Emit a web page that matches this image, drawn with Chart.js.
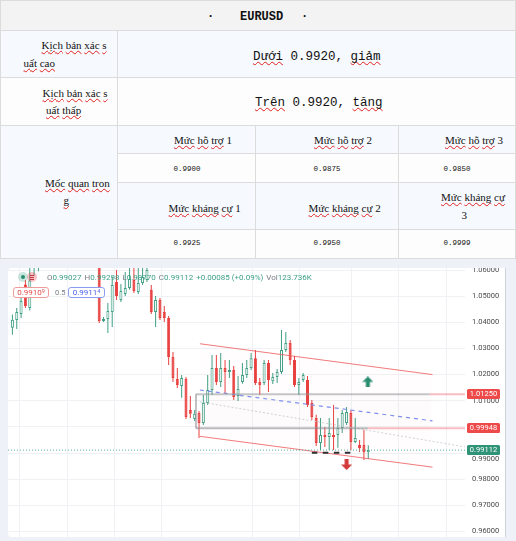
<!DOCTYPE html>
<html>
<head>
<meta charset="utf-8">
<script src="https://cdn.jsdelivr.net/npm/chart.js@4.4.1/dist/chart.umd.min.js"></script>
<style>
  html, body { margin: 0; padding: 0; }
  body { width: 516px; height: 541px; position: relative; overflow: hidden; background: #fff; }
  .cell { position: absolute; }
  .hl { position: absolute; height: 1px; background: #dcdcdc; }
  .vl { position: absolute; width: 1px; background: #dcdcdc; }
  .t { position: absolute; white-space: nowrap; color: #111; }
  .serif { font-family: "Liberation Serif", "DejaVu Serif", serif; font-size: 11px; line-height: 12px; }
  .big { font-family: "Liberation Mono", "DejaVu Sans Mono", monospace; font-size: 12.5px; line-height: 14px; }
  .val { font-family: "Liberation Mono", "DejaVu Sans Mono", monospace; font-size: 7.5px; line-height: 9px; }
  .head { font-family: "Liberation Mono", monospace; font-weight: bold; font-size: 12px; line-height: 14px; }
  .w { text-decoration: underline wavy #e02020; text-decoration-thickness: 1px; text-underline-offset: 1px; text-decoration-skip-ink: none; }
  #frame { position: absolute; left: 0; top: 258px; width: 516px; height: 283px; background: #eef1f7; }
  #panel { position: absolute; left: 8px; top: 268px; width: 498px; height: 269px; background: #fff;
           border-radius: 4px 0 0 4px; border-right: 1px solid #cfd3da; box-sizing: border-box; }
  .lg { position: absolute; white-space: nowrap; font-family: Roboto, sans-serif; }
  .k { color: #787b86; }
  .ohlc span.v { margin-right: 3px; }
  .box { position: absolute; box-sizing: border-box; height: 11px; border-radius: 3px; background: #fff;
         font: 8px/9px Roboto, sans-serif; text-align: center; }
  .box small { font-size: 5.5px; vertical-align: top; line-height: 7px; }
</style>
</head>
<body>

<!-- table -->
<div class="cell" style="left:0;top:0;width:516px;height:30px;background:#f3f3f3"></div>
<div class="cell" style="left:0;top:30px;width:516px;height:47px;background:#f6f9fd"></div>
<div class="cell" style="left:0;top:77px;width:516px;height:48px;background:#fdfdfd"></div>
<div class="cell" style="left:0;top:125px;width:118px;height:133px;background:#f6f9fd"></div>
<div class="cell" style="left:118px;top:125px;width:398px;height:28px;background:#f6f9fd"></div>
<div class="cell" style="left:118px;top:153px;width:398px;height:29px;background:#fdfdfd"></div>
<div class="cell" style="left:118px;top:182px;width:398px;height:47px;background:#f6f9fd"></div>
<div class="cell" style="left:118px;top:229px;width:398px;height:29px;background:#fdfdfd"></div>

<div class="hl" style="left:0;top:0;width:516px"></div>
<div class="hl" style="left:0;top:30px;width:516px"></div>
<div class="hl" style="left:0;top:77px;width:516px"></div>
<div class="hl" style="left:0;top:125px;width:516px"></div>
<div class="hl" style="left:118px;top:153px;width:398px"></div>
<div class="hl" style="left:118px;top:182px;width:398px"></div>
<div class="hl" style="left:118px;top:229px;width:398px"></div>
<div class="vl" style="left:0;top:0;height:258px"></div>
<div class="vl" style="left:515px;top:0;height:258px"></div>
<div class="vl" style="left:117px;top:30px;height:228px"></div>
<div class="vl" style="left:255px;top:125px;height:133px"></div>
<div class="vl" style="left:398px;top:125px;height:133px"></div>

<div class="t head" style="left:207px;top:10px">·</div>
<div class="t head" style="left:240px;top:10px">EURUSD</div>
<div class="t head" style="left:301px;top:10px">·</div>

<div class="t serif" style="left:41.5px;top:39px"><span class="w">Kịch</span> <span class="w">bản</span> <span class="w">xác</span> <span class="w">s</span></div>
<div class="t serif" style="left:23.5px;top:57px"><span class="w">uất</span> <span class="w">cao</span></div>
<div class="t big" style="left:253px;top:49.5px"><span class="w">Dưới</span> 0.9920, <span class="w">giảm</span></div>

<div class="t serif" style="left:42.5px;top:87px"><span class="w">Kịch</span> <span class="w">bản</span> <span class="w">xác</span> <span class="w">s</span></div>
<div class="t serif" style="left:46px;top:103.5px"><span class="w">uất</span> <span class="w">thấp</span></div>
<div class="t big" style="left:255px;top:96px"><span class="w">Trên</span> 0.9920, <span class="w">tăng</span></div>

<div class="t serif" style="left:45px;top:177px"><span class="w">Mốc</span> <span class="w">quan</span> <span class="w">tron</span></div>
<div class="t serif" style="left:63.5px;top:193.5px"><span class="w">g</span></div>

<div class="t serif" style="left:174px;top:133.5px"><span class="w">Mức</span> <span class="w">hỗ</span> <span class="w">trợ</span> 1</div>
<div class="t serif" style="left:314px;top:133.5px"><span class="w">Mức</span> <span class="w">hỗ</span> <span class="w">trợ</span> 2</div>
<div class="t serif" style="left:445px;top:133.5px"><span class="w">Mức</span> <span class="w">hỗ</span> <span class="w">trợ</span> 3</div>
<div class="t val" style="left:173.5px;top:164.5px">0.9900</div>
<div class="t val" style="left:313.5px;top:164.5px">0.9875</div>
<div class="t val" style="left:443.5px;top:164.5px">0.9850</div>
<div class="t serif" style="left:168.5px;top:201.5px"><span class="w">Mức</span> <span class="w">kháng</span> <span class="w">cự</span> 1</div>
<div class="t serif" style="left:308.5px;top:201.5px"><span class="w">Mức</span> <span class="w">kháng</span> <span class="w">cự</span> 2</div>
<div class="t serif" style="left:441px;top:190.5px"><span class="w">Mức</span> <span class="w">kháng</span> <span class="w">cự</span></div>
<div class="t serif" style="left:461.5px;top:208.5px">3</div>
<div class="t val" style="left:173.5px;top:239px">0.9925</div>
<div class="t val" style="left:313.5px;top:239px">0.9950</div>
<div class="t val" style="left:443.5px;top:239px">0.9999</div>

<!-- chart -->
<div id="frame"></div>
<div class="hl" style="left:0;top:258px;width:516px"></div>
<div id="panel"><canvas id="chart"></canvas></div>

<div class="lg" style="left:18px;top:272px;width:10px;height:10px;border-radius:50%;background:rgba(76,175,146,0.3)">
  <div style="position:absolute;left:3px;top:3px;width:4px;height:4px;border-radius:50%;background:#2b8d6f"></div>
</div>
<div class="lg" style="left:27px;top:272px;width:10px;height:10px;border-radius:50%;background:rgba(242,54,69,0.3)">
  <div style="position:absolute;left:3px;top:2.5px;width:4px;height:5px;background:repeating-linear-gradient(#c23540 0 1px, transparent 1px 2px)"></div>
</div>
<div class="lg ohlc" style="left:47px;top:273px;font-size:8px;line-height:9px;color:#3b9f85">
  <span class="k">O</span><span class="v">0.99027</span><span class="k">H</span><span class="v">0.99298</span><span class="k">L</span><span class="v">0.98770</span><span class="k">C</span><span class="v">0.99112</span><span class="v">+0.00085 (+0.09%)</span><span class="k">Vol</span>123.736K
</div>
<div class="box" style="left:13px;top:287px;width:36px;border:1px solid #f19a9a;color:#e24b4b">0.9910<small>9</small></div>
<div class="lg" style="left:55px;top:288px;font-size:7.5px;line-height:9px;color:#787b86">0.5</div>
<div class="box" style="left:68px;top:287px;width:37px;border:1px solid #8b9cf3;color:#4a63e6">0.9911<small>4</small></div>

<script>
// EURUSD candles, oldest first (index = bar number)
const candleOpen = [
  1.0379, 1.0409, 1.0432, 1.0545, 1.0455, 1.0612, 1.0650, 1.0680, 1.0700, 1.0722,
  1.0705, 1.0681, 1.0709, 1.0733, 1.0720, 1.0692, 1.0667, 1.0688, 1.0660, 1.0642,
  1.0630, 1.0405, 1.0413, 1.0439, 1.0554, 1.0485, 1.0508, 1.0531, 1.0562, 1.0516,
  1.0550, 1.0562, 1.0524, 1.0439, 1.0485, 1.0439, 1.0416, 1.0267, 1.0183, 1.0156,
  1.0183, 1.0065, 1.0030, 1.0053, 1.0015, 1.0091, 1.0141, 1.0225, 1.0172, 1.0225,
  1.0210, 1.0218, 1.0118, 1.0172, 1.0198, 1.0225, 1.0263, 1.0172, 1.0168, 1.0244,
  1.0175, 1.0191, 1.0210, 1.0294, 1.0321, 1.0256, 1.0160, 1.0179, 1.0179, 1.0091,
  1.0034, 0.9938, 0.9969, 0.9961, 0.9969, 0.9969, 0.9996, 1.0015, 1.0053, 0.9942,
  0.9931, 0.9931, 0.99027
];
const candleHigh = [
  1.0430, 1.0455, 1.0504, 1.0562, 1.0615, 1.0670, 1.0700, 1.0712, 1.0735, 1.0748,
  1.0728, 1.0716, 1.0741, 1.0762, 1.0731, 1.0705, 1.0698, 1.0702, 1.0679, 1.0668,
  1.0640, 1.0420, 1.0474, 1.0575, 1.0600, 1.0546, 1.0592, 1.0625, 1.0630, 1.0608,
  1.0625, 1.0635, 1.0543, 1.0501, 1.0493, 1.0462, 1.0424, 1.0286, 1.0225, 1.0198,
  1.0191, 1.0118, 1.0065, 1.0061, 1.0122, 1.0198, 1.0275, 1.0275, 1.0283, 1.0256,
  1.0256, 1.0233, 1.0195, 1.0244, 1.0256, 1.0283, 1.0294, 1.0187, 1.0256, 1.0256,
  1.0206, 1.0221, 1.0371, 1.0363, 1.0332, 1.0271, 1.0187, 1.0206, 1.0195, 1.0103,
  1.0046, 1.0034, 1.0000, 1.0034, 1.0084, 1.0034, 1.0065, 1.0076, 1.0065, 1.0034,
  0.9950, 0.9989, 0.99298
];
const candleLow = [
  1.0352, 1.0374, 1.0416, 1.0455, 1.0445, 1.0578, 1.0595, 1.0655, 1.0688, 1.0690,
  1.0670, 1.0662, 1.0698, 1.0711, 1.0684, 1.0658, 1.0649, 1.0652, 1.0631, 1.0622,
  1.0397, 1.0401, 1.0359, 1.0382, 1.0485, 1.0478, 1.0501, 1.0524, 1.0512, 1.0508,
  1.0543, 1.0554, 1.0432, 1.0382, 1.0409, 1.0401, 1.0237, 1.0172, 1.0149, 1.0111,
  1.0030, 1.0034, 1.0023, 0.9958, 1.0007, 1.0084, 1.0122, 1.0160, 1.0153, 1.0130,
  1.0187, 1.0103, 1.0099, 1.0165, 1.0187, 1.0218, 1.0160, 1.0122, 1.0160, 1.0133,
  1.0164, 1.0168, 1.0202, 1.0286, 1.0237, 1.0153, 1.0122, 1.0172, 1.0076, 1.0026,
  0.9927, 0.9912, 0.9923, 0.9912, 0.9912, 0.9920, 0.9977, 1.0007, 0.9912, 0.9938,
  0.9904, 0.9873, 0.98770
];
const candleClose = [
  1.0410, 1.0439, 1.0481, 1.0462, 1.0560, 1.0650, 1.0680, 1.0700, 1.0722, 1.0705,
  1.0681, 1.0709, 1.0733, 1.0720, 1.0692, 1.0667, 1.0688, 1.0660, 1.0642, 1.0630,
  1.0405, 1.0413, 1.0443, 1.0543, 1.0501, 1.0520, 1.0531, 1.0566, 1.0520, 1.0550,
  1.0573, 1.0600, 1.0439, 1.0485, 1.0416, 1.0416, 1.0267, 1.0187, 1.0160, 1.0187,
  1.0038, 1.0050, 1.0050, 1.0015, 1.0091, 1.0141, 1.0225, 1.0172, 1.0225, 1.0210,
  1.0218, 1.0114, 1.0145, 1.0198, 1.0225, 1.0263, 1.0168, 1.0160, 1.0244, 1.0179,
  1.0191, 1.0210, 1.0294, 1.0321, 1.0256, 1.0160, 1.0172, 1.0198, 1.0084, 1.0038,
  0.9938, 0.9969, 0.9961, 0.9977, 0.9961, 0.9996, 1.0053, 1.0057, 0.9942, 0.9958,
  0.9919, 0.99027, 0.99112
];

// price axis
const priceTicksStep = 0.01;
const priceTags = [1.0125, 0.99948, 0.99112];
const lastPrice = 0.99112;

// drawings (bar index, price)
const channelIdx = [43.2, 96.8];
const channelTop = [1.0318, 1.0200];
const channelMid = [1.0141, 1.0023];
const channelBot = [0.9964, 0.9846];
const trendIdx = [43.2, 104.5];
const trendPrice = [1.0096, 0.9923];
const zoneStart = 42.3;
const zoneTopEnd = 96.2;
const zoneBotEnd = 81.9;
const zoneHigh = 1.0125;
const zoneLow = 0.99948;
const lowMarkIdx = [69.0, 78.6];
const lowMarkPrice = 0.99013;
const arrowIdx = [81.9, 77.0];
const arrowPrice = [1.0172, 0.9856];
const timeGrid = [1.6, 12.65, 23.5, 34.4, 55.3, 66.1, 78.1, 89.0, 100.1];

const X_MIN = -1.014, X_MAX = 104.29;
const Y_MAX = 1.060765, Y_MIN = 0.957897;

const upColor = '#3f9f84';
const downColor = '#e8403f';

const isUp = candleClose.map((c, i) => c >= candleOpen[i]);
const bodies = candleOpen.map((o, i) => ({ x: i, y: [o, candleClose[i]] }));
const wicks = candleLow.map((l, i) => ({ x: i, y: [l, candleHigh[i]] }));

const seg = (xs, ys) => xs.map((x, k) => ({ x: x, y: ys[k] }));
const lineDs = (data, color, width, dash, extra) => Object.assign({
  type: 'line', data: data, borderColor: color, borderWidth: width, borderDash: dash || [],
  pointRadius: 0, tension: 0, fill: false, order: 0
}, extra || {});

function makeArrow(color, up) {
  const c = document.createElement('canvas');
  c.width = 11; c.height = 11;
  const g = c.getContext('2d');
  g.fillStyle = color;
  g.beginPath();
  if (up) {
    g.moveTo(5.5, 0); g.lineTo(11, 5.5); g.lineTo(7.5, 5.5); g.lineTo(7.5, 11);
    g.lineTo(3.5, 11); g.lineTo(3.5, 5.5); g.lineTo(0, 5.5);
  } else {
    g.moveTo(5.5, 11); g.lineTo(11, 5.5); g.lineTo(7.5, 5.5); g.lineTo(7.5, 0);
    g.lineTo(3.5, 0); g.lineTo(3.5, 5.5); g.lineTo(0, 5.5);
  }
  g.closePath();
  g.fill();
  return c;
}

const priceTagPlugin = {
  id: 'priceTags',
  afterDraw(chart) {
    const { ctx, chartArea } = chart;
    const y = chart.scales.y;
    const tagColors = ['#ee4a4a', '#ee4a4a', '#2f9378'];
    ctx.save();
    ctx.font = '7.5px Roboto';
    ctx.textBaseline = 'middle';
    priceTags.forEach((p, k) => {
      const py = Math.round(y.getPixelForValue(p));
      ctx.fillStyle = tagColors[k];
      ctx.beginPath();
      ctx.roundRect(chartArea.right + 2, py - 5, 33, 10, 1.5);
      ctx.fill();
      ctx.fillStyle = '#fff';
      ctx.textAlign = 'center';
      ctx.fillText(p.toFixed(5), chartArea.right + 18.5, py + 0.5);
    });
    // the 0.99 tick label is pushed below the last price tag
    ctx.fillStyle = '#4a4a4a';
    ctx.textAlign = 'left';
    ctx.fillText((0.99).toFixed(5), chartArea.right + 7, Math.round(y.getPixelForValue(lastPrice)) + 9.5);
    ctx.restore();
  }
};

new Chart(document.getElementById('chart'), {
  type: 'bar',
  data: {
    datasets: [
      lineDs(seg(arrowIdx, arrowPrice), 'transparent', 0, [], {
        showLine: false, pointRadius: 6,
        pointStyle: [makeArrow('#2b8d6f', true), makeArrow('#d53a3a', false)]
      }),
      lineDs(seg(lowMarkIdx, [lowMarkPrice, lowMarkPrice]), '#2f2f2f', 2, [5.5, 5.5]),
      lineDs(seg([X_MIN, X_MAX], [lastPrice, lastPrice]), '#55b09a', 1, [1, 2]),
      lineDs(seg([zoneStart, zoneTopEnd], [zoneHigh, zoneHigh]), 'rgba(150,150,155,0.55)', 2),
      lineDs(seg([zoneStart, zoneBotEnd], [zoneLow, zoneLow]), 'rgba(140,140,145,0.6)', 2),
      lineDs(seg([zoneStart, zoneStart], [zoneHigh, zoneLow]), 'rgba(150,150,155,0.5)', 1),
      lineDs(seg([zoneStart, zoneTopEnd], [zoneHigh, zoneHigh]), 'transparent', 0, [], {
        fill: { value: zoneLow }, backgroundColor: 'rgba(170,150,170,0.025)'
      }),
      lineDs(seg([zoneTopEnd, X_MAX], [zoneHigh, zoneHigh]), 'rgba(242,54,69,0.33)', 2),
      lineDs(seg([zoneBotEnd, X_MAX], [zoneLow, zoneLow]), 'rgba(242,54,69,0.33)', 2),
      lineDs(seg(trendIdx, trendPrice), '#cfcfd6', 1, [2, 2]),
      lineDs(seg(channelIdx, channelMid), '#7f90ee', 1.2, [4, 4]),
      lineDs(seg(channelIdx, channelTop), 'rgba(238,90,90,0.8)', 1, [], {
        fill: 12, backgroundColor: 'rgba(242,54,69,0.012)'
      }),
      lineDs(seg(channelIdx, channelBot), 'rgba(238,90,90,0.8)', 1),
      {
        data: bodies, order: 1, grouped: false, barThickness: 3, minBarLength: 1,
        inflateAmount: 0, borderSkipped: false, borderWidth: 1,
        backgroundColor: isUp.map(u => u ? '#ffffff' : downColor),
        borderColor: isUp.map(u => u ? upColor : downColor)
      },
      {
        data: wicks, order: 2, grouped: false, barThickness: 1,
        inflateAmount: 0, borderSkipped: false, borderWidth: 0,
        backgroundColor: isUp.map(u => u ? upColor : downColor)
      }
    ]
  },
  options: {
    responsive: true,
    maintainAspectRatio: false,
    animation: false,
    events: [],
    layout: { padding: 0, autoPadding: false },
    plugins: { legend: { display: false }, tooltip: { enabled: false } },
    scales: {
      x: {
        type: 'linear', min: X_MIN, max: X_MAX, offset: false,
        grid: { color: '#f0f1f4', drawTicks: false, offset: false },
        border: { display: false },
        ticks: { display: false },
        afterBuildTicks: s => { s.ticks = timeGrid.map(v => ({ value: v })); },
        afterFit: s => { s.height = 0; s.paddingLeft = 0; s.paddingRight = 0; }
      },
      y: {
        position: 'right', min: Y_MIN, max: Y_MAX,
        grid: { color: '#f0f1f4', drawTicks: false },
        border: { display: false },
        ticks: {
          stepSize: priceTicksStep, includeBounds: false, autoSkip: false, padding: 7,
          color: '#4a4a4a', font: { family: 'Roboto', size: 7.5 },
          callback: v => Math.abs(v - 0.99) < 1e-6 ? '' : v.toFixed(5)
        },
        afterFit: s => { s.width = 40; s.paddingTop = 0; s.paddingBottom = 0; }
      }
    }
  },
  plugins: [priceTagPlugin]
});
</script>
</body>
</html>
